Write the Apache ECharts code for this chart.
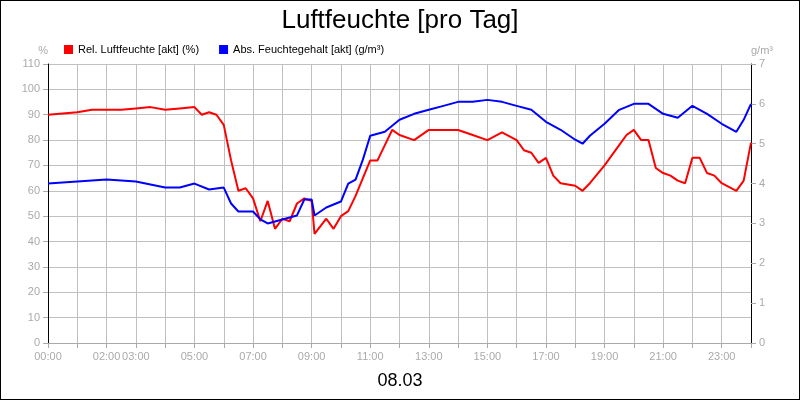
<!DOCTYPE html>
<html><head><meta charset="utf-8">
<script src="https://cdn.jsdelivr.net/npm/echarts@6/dist/echarts.min.js"></script>
<style>html,body{margin:0;padding:0;}#c{width:798px;height:398px;border:1px solid #000;}</style>
</head><body><div id="c"></div>
<script>
const relHours = [0,0.5,1,1.5,2,2.5,3,3.5,4,4.5,5,5.25,5.5,5.75,6,6.25,6.5,6.75,7,7.25,7.5,7.75,8,8.25,8.5,8.75,9,9.1,9.5,9.75,10,10.25,10.5,10.75,11,11.25,11.5,11.75,12,12.5,13,13.5,14,14.5,15,15.5,16,16.25,16.5,16.75,17,17.25,17.5,18,18.25,18.5,19,19.5,19.75,20,20.25,20.5,20.75,21,21.25,21.5,21.75,22,22.25,22.5,22.75,23,23.5,23.75,24];
const relValues = [90,90.5,91,92,92,92,92.5,93,92,92.5,93,90,91,90,86,72,60,61,57,48,56,45,49,48,55,57,56,43,49,45,50,52,58,65,72,72,78,84,82,80,84,84,84,82,80,83,80,76,75,71,73,66,63,62,60,63,70,78,82,84,80,80,69,67,66,64,63,73,73,67,66,63,60,64,79];
const absHours = [0,1,2,3,4,4.5,5,5.5,6,6.25,6.5,7,7.25,7.5,7.75,8,8.5,8.75,9,9.1,9.5,10,10.25,10.5,10.75,11,11.5,12,12.5,13,13.5,14,14.5,15,15.5,16,16.5,17,17.5,18,18.25,18.5,19,19.5,20,20.5,21,21.5,22,22.5,23,23.5,23.75,24];
const absValues = [4.0,4.05,4.1,4.05,3.9,3.9,4.0,3.85,3.9,3.5,3.3,3.3,3.1,3.0,3.05,3.1,3.2,3.6,3.6,3.2,3.4,3.55,4.0,4.1,4.6,5.2,5.3,5.6,5.75,5.85,5.95,6.05,6.05,6.1,6.05,5.95,5.85,5.55,5.35,5.1,5.0,5.2,5.5,5.85,6.0,6.0,5.75,5.65,5.95,5.75,5.5,5.3,5.6,6.0];
const shownHours = [0,2,3,5,7,9,11,13,15,17,19,21,23];
const dateLabel = '08.03';

const gray = '#aaa';
const chart = echarts.init(document.getElementById('c'));
chart.setOption({
  animation: false,
  textStyle: {fontFamily: 'Arial, Liberation Sans, sans-serif'},
  title: [
    {text: 'Luftfeuchte [pro Tag]', left: 'center', top: 2, textStyle: {fontSize: 26, fontWeight: 'normal', color: '#000'}},
    {text: dateLabel, left: 'center', top: 366, textStyle: {fontSize: 18, fontWeight: 'normal', color: '#000'}}
  ],
  legend: {left: 58, top: 38, itemWidth: 9, itemHeight: 9, itemGap: 20, icon: 'rect',
    textStyle: {fontSize: 11, color: '#000'},
    data: ['Rel. Luftfeuchte [akt] (%)', 'Abs. Feuchtegehalt [akt] (g/m³)']},
  grid: {left: 47, right: 48, top: 63, bottom: 56},
  xAxis: {type: 'value', min: 0, max: 24, interval: 1,
    axisLine: {lineStyle: {color: gray}}, axisTick: {show: true, lineStyle: {color: gray}},
    splitLine: {lineStyle: {color: '#c0c0c0'}},
    axisLabel: {color: gray, fontSize: 11,
      formatter: v => shownHours.includes(v) ? String(v).padStart(2, '0') + ':00' : ''}},
  yAxis: [
    {type: 'value', min: 0, max: 110, interval: 10, name: '%', nameGap: 8,
      nameTextStyle: {color: gray, fontSize: 11, align: 'right'},
      axisLine: {show: true, lineStyle: {color: '#000'}}, axisTick: {show: true, lineStyle: {color: gray}},
      axisLabel: {color: gray, fontSize: 11}, splitLine: {lineStyle: {color: '#c0c0c0'}}},
    {type: 'value', min: 0, max: 7, interval: 1, name: 'g/m³', nameGap: 8, position: 'right',
      nameTextStyle: {color: gray, fontSize: 11, align: 'left'},
      axisLine: {show: true, lineStyle: {color: '#000'}}, axisTick: {show: true, lineStyle: {color: gray}},
      axisLabel: {color: gray, fontSize: 11}, splitLine: {show: false}}
  ],
  series: [
    {name: 'Rel. Luftfeuchte [akt] (%)', type: 'line', yAxisIndex: 0, showSymbol: false,
      color: '#ff0000', lineStyle: {width: 2},
      data: relHours.map((h, i) => [h, relValues[i]])},
    {name: 'Abs. Feuchtegehalt [akt] (g/m³)', type: 'line', yAxisIndex: 1, showSymbol: false,
      color: '#0000ff', lineStyle: {width: 2},
      data: absHours.map((h, i) => [h, absValues[i]])}
  ]
});
</script></body></html>
